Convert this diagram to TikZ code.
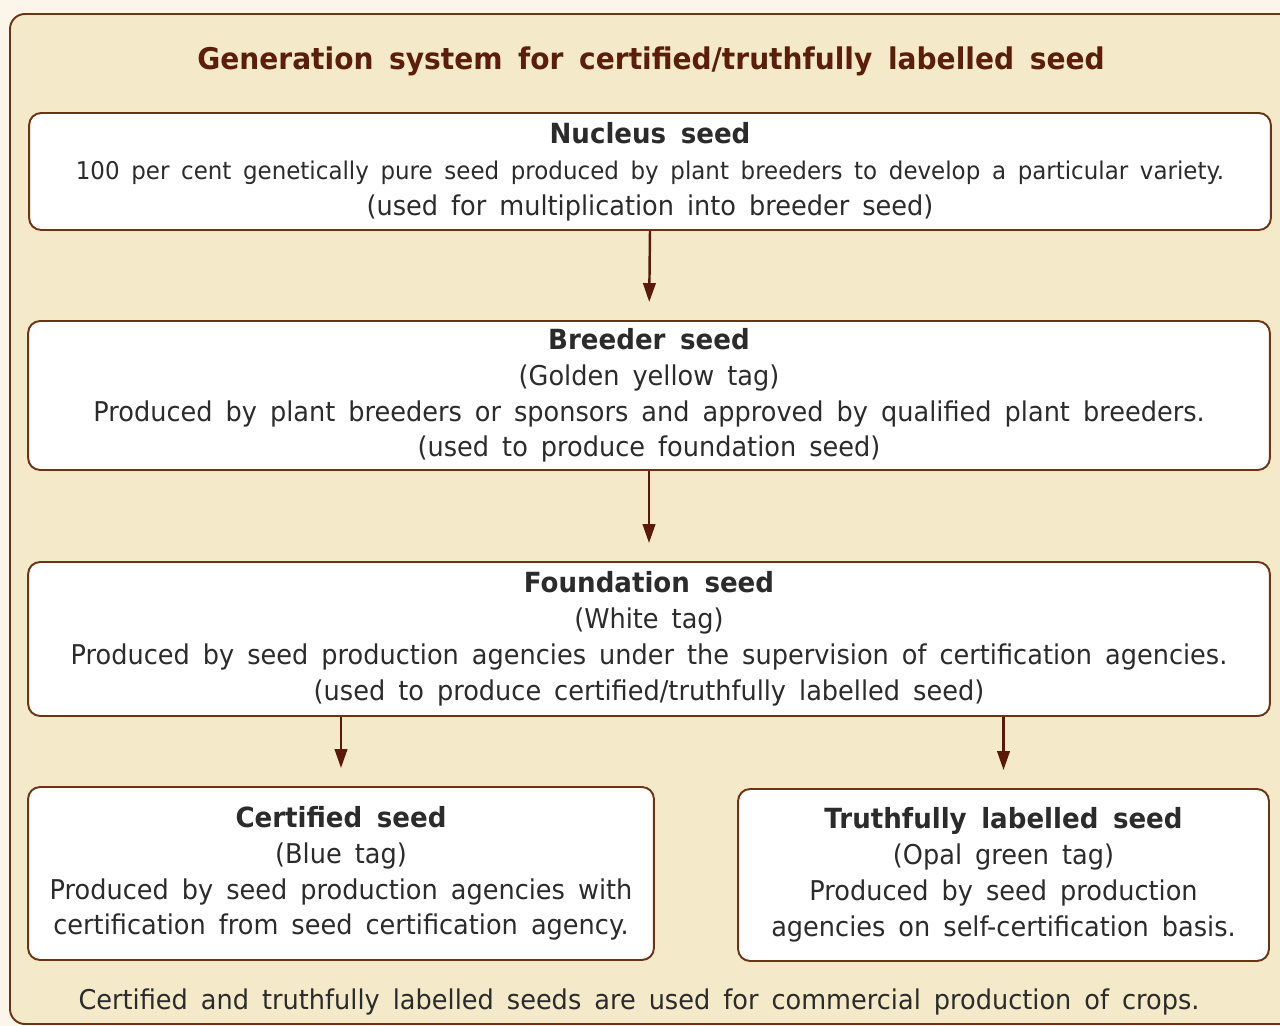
\documentclass[tikz,border=0pt]{standalone}
\usepackage{fontspec}
\setmainfont{DejaVu Sans}[FakeStretch=0.94, WordSpace=1.6]
\usepackage{xcolor}
\usepackage{tikz}
\usetikzlibrary{arrows.meta}

\definecolor{pagecream}{HTML}{FBF6E9}
\definecolor{panelcream}{HTML}{F4EACA}
\definecolor{framebrown}{HTML}{6A3515}
\definecolor{arrowbrown}{HTML}{5A1A0A}
\definecolor{titlebrown}{HTML}{5B1E0B}
\definecolor{inkgrey}{HTML}{2B2B2B}

\tikzset{
	seedbox/.style = {draw = framebrown, fill = white, line width = 1.1pt, rounded corners = 0.24cm,
		align = center, inner sep = 0pt, text = inkgrey, font = \fontsize{15.5}{20.4}\selectfont},
	flow/.style = {draw = arrowbrown, line width = 1.4pt, -{Triangle[width = 0.25cm, length = 0.38cm]}, shorten > = 0.36cm}
}
\newcommand{\boxhead}[1]{{\bfseries\fontsize{15.8}{20.4}\selectfont #1}}

\begin{document}
\begin{tikzpicture}[x = 0.02cm, y = -0.02cm]
		\fill[pagecream] (0,0) rectangle (1280,1026);
		\useasboundingbox (0,0) rectangle (1280,1026);
		\fill[panelcream, draw = framebrown, line width = 1.1pt, rounded corners = 0.3cm] (10,14) rectangle (1310,1024);
		\node[text = titlebrown, font = \bfseries\fontsize{17}{20}\selectfont] (heading) at (651,61) {Generation system for certified/truthfully labelled seed};
		\node[seedbox, minimum width = 24.84cm, minimum height = 2.34cm] (nucleus) at (650,171.5) {\boxhead{Nucleus seed}\\
			{\fontsize{13.9}{20.4}\selectfont 100 per cent genetically pure seed produced by plant breeders to develop a particular variety.}\\
			(used for multiplication into breeder seed)};
		\node[seedbox, minimum width = 24.84cm, minimum height = 2.98cm] (breeder) at (649,395.5) {\boxhead{Breeder seed}\\
			(Golden yellow tag)\\
			Produced by plant breeders or sponsors and approved by qualified plant breeders.\\
			(used to produce foundation seed)};
		\node[seedbox, minimum width = 24.84cm, minimum height = 3.08cm] (foundation) at (649,639) {\boxhead{Foundation seed}\\
			(White tag)\\
			Produced by seed production agencies under the supervision of certification agencies.\\
			(used to produce certified/truthfully labelled seed)};
		\node[seedbox, minimum width = 12.52cm, minimum height = 3.46cm] (certified) at (341,873.5) {\boxhead{Certified seed}\\
			(Blue tag)\\
			Produced by seed production agencies with\\
			certification from seed certification agency.};
		\node[seedbox, minimum width = 10.62cm, minimum height = 3.44cm] (truthful) at (1003.5,875) {\boxhead{Truthfully labelled seed}\\
			(Opal green tag)\\
			Produced by seed production\\
			agencies on self-certification basis.};
		\node[text = inkgrey, font = \fontsize{15.5}{20}\selectfont] (usage) at (639,1002) {Certified and truthfully labelled seeds are used for commercial production of crops.};
		% arrows between generations
		\draw[flow] (nucleus.south) -- (breeder.north);
		\draw[flow] (breeder.south) -- (foundation.north);
		\draw[flow] (foundation.south -| certified.north) -- (certified.north);
		\draw[flow] (foundation.south -| truthful.north) -- (truthful.north);
	\end{tikzpicture}
\end{document}
